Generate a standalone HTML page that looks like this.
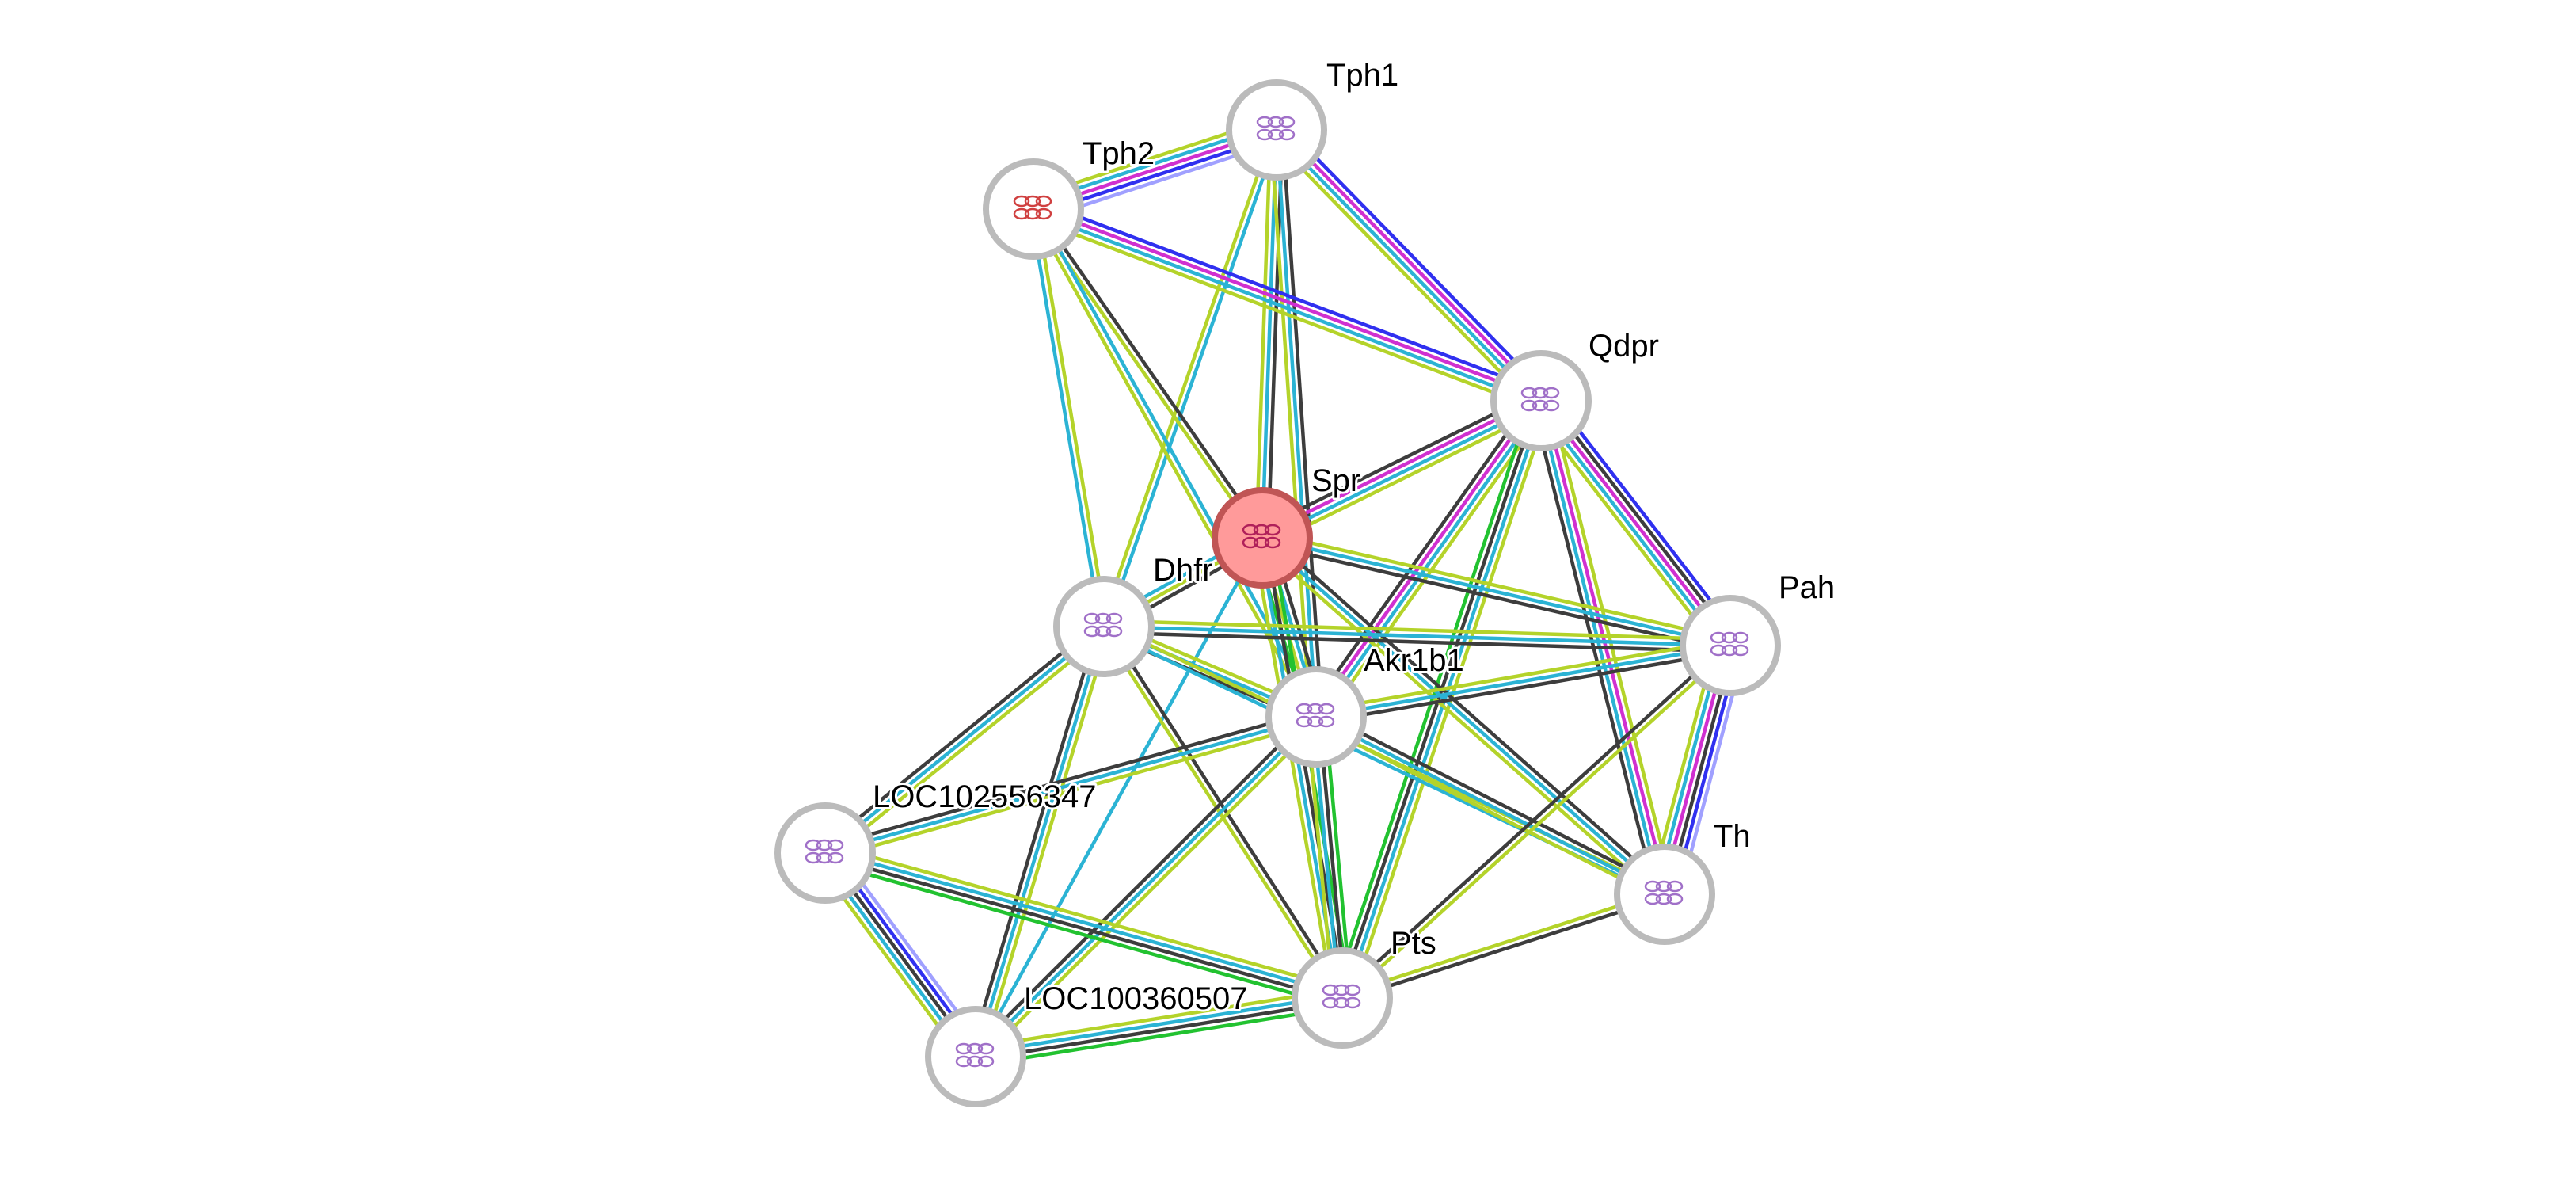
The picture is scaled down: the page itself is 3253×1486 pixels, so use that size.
<!DOCTYPE html>
<html><head><meta charset="utf-8"><style>
html,body{margin:0;padding:0;background:#fff;}
svg{display:block}
text{font-family:"Liberation Sans",sans-serif;font-size:40px;fill:#000;stroke:#fff;stroke-width:6px;paint-order:stroke;stroke-linejoin:round}
</style></head><body>
<svg id="s" width="3253" height="1486" viewBox="0 0 3253 1486" xmlns="http://www.w3.org/2000/svg">
<g id="edges"></g><g id="nodes"></g><g id="labels">
<text x="1675" y="108">Tph1</text>
<text x="1367" y="207">Tph2</text>
<text x="2006" y="450">Qdpr</text>
<text x="1656" y="620">Spr</text>
<text x="1456" y="733">Dhfr</text>
<text x="2246" y="755">Pah</text>
<text x="1722" y="847">Akr1b1</text>
<text x="1102" y="1019">LOC102556347</text>
<text x="2164" y="1069">Th</text>
<text x="1756" y="1204">Pts</text>
<text x="1293" y="1274">LOC100360507</text>
</g></svg>
<script>
var N={Tph1:[1612,164],Tph2:[1305,264],Qdpr:[1946,506],Spr:[1594,679],Dhfr:[1394,791],Pah:[2185,815],Akr:[1662,905],L347:[1042,1077],Th:[2102,1129],Pts:[1695,1260],L507:[1232,1334]};
var C={k:"#3d3d3d",c:"#2bb3d4",y:"#b4d32a",b:"#3030f0",m:"#d030d0",l:"#a0a0ff",g:"#22c230"};
var E=[["Tph1","Tph2","lbmcy"],["Tph1","Qdpr","bmcy"],["Tph1","Spr","kcy"],["Tph1","Akr","kcy"],["Tph1","Dhfr","cy"],
["Tph2","Qdpr","bmcy"],["Tph2","Spr","ky"],["Tph2","Akr","cy"],["Tph2","Dhfr","yc"],
["Qdpr","Spr","ycmk"],["Qdpr","Pah","bkmcy"],["Qdpr","Akr","ycmk"],["Qdpr","Pts","yckg"],["Qdpr","Th","ymck"],
["Spr","Dhfr","kyc"],["Spr","Akr","kcyg"],["Spr","Pah","yck"],["Spr","Th","kcy"],["Spr","Pts","gkcy"],["Spr","L507","c"],
["Dhfr","Pah","yck"],["Dhfr","Akr","yck"],["Dhfr","Th","yc"],["Dhfr","L347","yck"],["Dhfr","L507","yck"],["Dhfr","Pts","ky"],
["Akr","Pah","yck"],["Akr","Th","kcy"],["Akr","Pts","gkcy"],["Akr","L347","yck"],["Akr","L507","yck"],
["Pah","Th","lbkmcy"],["Pah","Pts","yk"],["Th","Pts","ky"],["L347","L507","lbkcy"],["L347","Pts","yckg"],["L507","Pts","yckg"]];
var ns="http://www.w3.org/2000/svg",eg=document.getElementById("edges"),ng=document.getElementById("nodes");
function el(t,a,p){var e=document.createElementNS(ns,t);for(var k in a)e.setAttribute(k,a[k]);p.appendChild(e);return e;}
E.forEach(function(e){var a=N[e[0]],b=N[e[1]],dx=b[0]-a[0],dy=b[1]-a[1],L=Math.hypot(dx,dy),px=-dy/L,py=dx/L,n=e[2].length,sp=7.5;
for(var i=0;i<n;i++){var o=(i-(n-1)/2)*sp;el("line",{x1:a[0]+px*o,y1:a[1]+py*o,x2:b[0]+px*o,y2:b[1]+py*o,stroke:C[e[2][i]],"stroke-width":4.5},eg);}});
for(var k in N){var p=N[k],spr=k=="Spr";
el("circle",{cx:p[0],cy:p[1],r:60,fill:spr?"#ff9a9a":"#fff",stroke:spr?"#c05555":"#bbbbbb","stroke-width":8},ng);
var col=spr?"#b0205a":(k=="Tph2"?"#d04040":"#a070c8");
for(var j=0;j<6;j++){el("ellipse",{cx:p[0]-15+(j%3)*14,cy:p[1]-10+Math.floor(j/3)*16,rx:9,ry:6,fill:"none",stroke:col,"stroke-width":2.5},ng);}
}
</script>
</body></html>
